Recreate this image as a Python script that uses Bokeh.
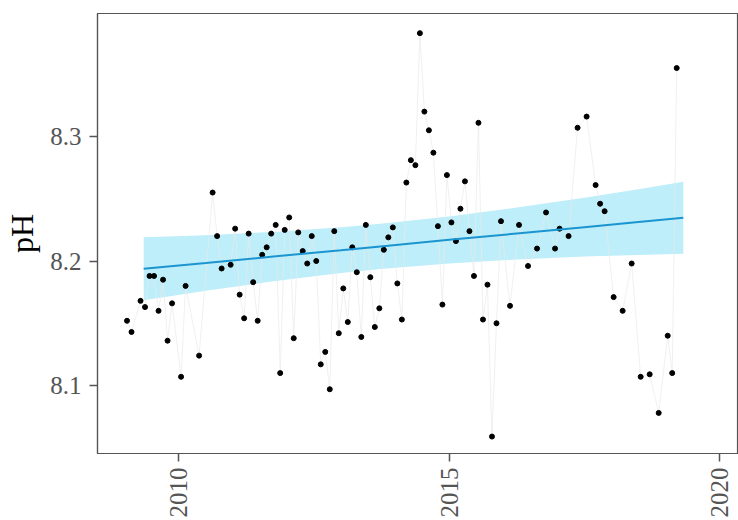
import math
from bokeh.plotting import figure
from bokeh.models import FixedTicker, Range1d, ColumnDataSource
from bokeh.embed import file_html
from bokeh.resources import INLINE

# ---- data ----
months = [
    "2009-01", "2009-02", "2009-04", "2009-05", "2009-06", "2009-07", "2009-08", "2009-09", "2009-10", "2009-11",
    "2010-01", "2010-02", "2010-05", "2010-08", "2010-09", "2010-10", "2010-12",
    "2011-01", "2011-02", "2011-03", "2011-04", "2011-05", "2011-06", "2011-07", "2011-08", "2011-09", "2011-10", "2011-11", "2011-12",
    "2012-01", "2012-02", "2012-03", "2012-04", "2012-05", "2012-06", "2012-07", "2012-08", "2012-09", "2012-10", "2012-11", "2012-12",
    "2013-01", "2013-02", "2013-03", "2013-04", "2013-05", "2013-06", "2013-07", "2013-08", "2013-09", "2013-10", "2013-11", "2013-12",
    "2014-01", "2014-02", "2014-03", "2014-04", "2014-05", "2014-06", "2014-07", "2014-08", "2014-09", "2014-10", "2014-11", "2014-12",
    "2015-01", "2015-02", "2015-03", "2015-04", "2015-05", "2015-06", "2015-07", "2015-08", "2015-09", "2015-10", "2015-11", "2015-12",
    "2016-02", "2016-04", "2016-06", "2016-08", "2016-10", "2016-12",
    "2017-01", "2017-03", "2017-05", "2017-07", "2017-09", "2017-10", "2017-11",
    "2018-01", "2018-03", "2018-05", "2018-07", "2018-09", "2018-11",
    "2019-01", "2019-02", "2019-03",
]
ph = [
    8.152, 8.143, 8.168, 8.163, 8.188, 8.188, 8.160, 8.185, 8.136, 8.166,
    8.107, 8.180, 8.124, 8.255, 8.220, 8.194, 8.197,
    8.226, 8.173, 8.154, 8.222, 8.183, 8.152, 8.205, 8.211, 8.222, 8.229, 8.110, 8.225,
    8.235, 8.138, 8.223, 8.208, 8.198, 8.220, 8.200, 8.117, 8.127, 8.097, 8.224, 8.142,
    8.178, 8.151, 8.211, 8.191, 8.139, 8.229, 8.187, 8.147, 8.162, 8.209, 8.219, 8.227,
    8.182, 8.153, 8.263, 8.281, 8.277, 8.383, 8.320, 8.305, 8.287, 8.228, 8.165, 8.269,
    8.231, 8.216, 8.242, 8.264, 8.224, 8.188, 8.311, 8.153, 8.181, 8.059, 8.150, 8.232,
    8.164, 8.229, 8.196, 8.210, 8.239, 8.210,
    8.226, 8.220, 8.307, 8.316, 8.261, 8.246, 8.240,
    8.171, 8.160, 8.198, 8.107, 8.109, 8.078,
    8.140, 8.110, 8.355,
]

# linear trend and its confidence band
fit_year = [2009.35, 2010.5, 2011.75, 2013.0, 2013.73, 2015.0, 2016.25, 2017.5, 2018.5, 2019.33]
fit_mid = [8.1937, 8.1984, 8.2036, 8.2087, 8.2117, 8.2170, 8.2221, 8.2272, 8.2313, 8.2347]
fit_lo = [8.1684, 8.1761, 8.1838, 8.1903, 8.1936, 8.1981, 8.2013, 8.2036, 8.2049, 8.2058]
fit_hi = [8.2190, 8.2207, 8.2234, 8.2271, 8.2299, 8.2358, 8.2429, 8.2508, 8.2577, 8.2636]

x_ticks = [2010, 2015, 2020]
x_tick_labels = ["2010", "2015", "2020"]
y_ticks = [8.1, 8.2, 8.3]
y_tick_labels = ["8.1", "8.2", "8.3"]

# decimal year at mid-month
dec_year = [int(m[:4]) + (int(m[5:]) - 0.5) / 12 for m in months]

src = ColumnDataSource(dict(x=dec_year, y=ph))
fit_src = ColumnDataSource(dict(x=fit_year, mid=fit_mid, lo=fit_lo, hi=fit_hi))

FONT = "Liberation Serif"
GREY = "#555555"

p = figure(width=738, height=520, output_backend="svg", toolbar_location=None,
           x_range=Range1d(2008.496, 2020.351), y_range=Range1d(8.0454, 8.3988),
           min_border_left=97, min_border_top=13, min_border_right=0, min_border_bottom=67)

p.background_fill_color = "white"
p.border_fill_color = "white"
p.outline_line_color = GREY
p.outline_line_width = 1.2
p.xgrid.visible = False
p.ygrid.visible = False

# band
p.varea(x="x", y1="lo", y2="hi", source=fit_src, fill_color="#bdeef9", fill_alpha=1.0)
# connecting line
p.line(x="x", y="y", source=src, line_color="#e9e9e9", line_width=0.7)
# points
p.scatter(x="x", y="y", source=src, size=5, fill_color="black", line_color="black")
# trend line
p.line(x="x", y="mid", source=fit_src, line_color="#1b95d0", line_width=2)

for ax in (p.xaxis[0], p.yaxis[0]):
    ax.axis_line_color = GREY
    ax.axis_line_width = 1.2
    ax.major_tick_line_color = GREY
    ax.major_tick_line_width = 1.5
    ax.major_tick_in = 0
    ax.major_tick_out = 8
    ax.minor_tick_line_color = None
    ax.major_label_text_font = FONT
    ax.major_label_text_font_size = "25px"
    ax.major_label_text_color = GREY

p.xaxis.ticker = FixedTicker(ticks=x_ticks)
p.xaxis.major_label_overrides = {t: l for t, l in zip(x_ticks, x_tick_labels)}
p.xaxis.major_label_orientation = math.pi / 2
p.xaxis.major_label_standoff = 6

p.yaxis.ticker = FixedTicker(ticks=y_ticks)
p.yaxis.major_label_overrides = {t: l for t, l in zip(y_ticks, y_tick_labels)}
p.yaxis.major_label_standoff = 8
p.yaxis.axis_label = "pH"
p.yaxis.axis_label_text_font = FONT
p.yaxis.axis_label_text_font_size = "32px"
p.yaxis.axis_label_text_font_style = "normal"
p.yaxis.axis_label_text_color = "black"
p.yaxis.axis_label_standoff = 7

open("out.html", "w").write(file_html(p, INLINE))
